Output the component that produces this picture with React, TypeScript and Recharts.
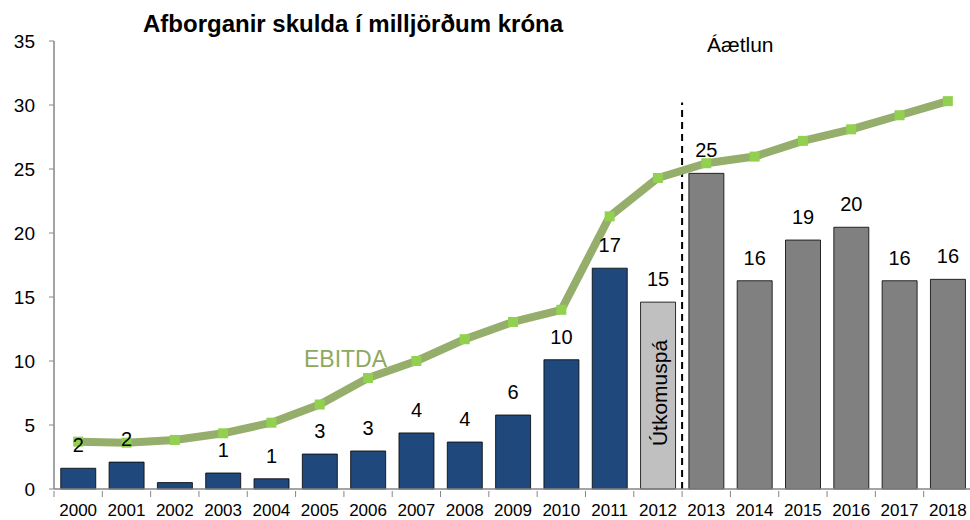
import React from 'react'
import {
  ComposedChart,
  Bar,
  Line,
  XAxis,
  YAxis,
  Cell,
  LabelList,
  ReferenceLine,
} from 'recharts'

const years = [
  '2000', '2001', '2002', '2003', '2004', '2005', '2006', '2007', '2008', '2009',
  '2010', '2011', '2012', '2013', '2014', '2015', '2016', '2017', '2018',
]

// afborganir (ma.kr.)
const repayments = [
  1.62, 2.1, 0.5, 1.25, 0.8, 2.73, 2.97, 4.38, 3.67, 5.78,
  10.1, 17.25, 14.6, 24.66, 16.27, 19.45, 20.45, 16.27, 16.38,
]

const repaymentLabels = [
  '2', '2', '', '1', '1', '3', '3', '4', '4', '6',
  '10', '17', '15', '25', '16', '19', '20', '16', '16',
]

const ebitda = [
  3.7, 3.62, 3.83, 4.35, 5.18, 6.6, 8.67, 10.0, 11.7, 13.05,
  14.0, 21.3, 24.3, 25.45, 25.97, 27.2, 28.1, 29.2, 30.3,
]

// saga / útkomuspá / áætlun
const kind = [
  'actual', 'actual', 'actual', 'actual', 'actual', 'actual', 'actual', 'actual', 'actual', 'actual',
  'actual', 'actual', 'estimate', 'plan', 'plan', 'plan', 'plan', 'plan', 'plan',
]

const yTicks = [0, 5, 10, 15, 20, 25, 30, 35]

const colors: Record<string, string> = {
  actual: '#1F497D',
  estimate: '#C0C0C0',
  plan: '#808080',
}

const data = years.map((year, i) => ({
  year,
  repayment: repayments[i],
  label: repaymentLabels[i],
  ebitda: ebitda[i],
  kind: kind[i],
}))

const FONT = '"Liberation Sans", Arial, sans-serif'
const AXIS = '#868686'
const BAND = 918 / years.length

const XTick = (props: any) => {
  const { x, y, payload, index } = props
  return (
    <g>
      <line x1={x - BAND / 2} x2={x - BAND / 2} y1={y} y2={y + 6} stroke={AXIS} />
      {index === years.length - 1 && (
        <line x1={x + BAND / 2} x2={x + BAND / 2} y1={y} y2={y + 6} stroke={AXIS} />
      )}
      <text x={x} y={y + 25} textAnchor="middle" fontSize={17} fill="#000" fontFamily={FONT}>
        {payload.value}
      </text>
    </g>
  )
}

const SquareDot = (props: any) => {
  const { cx, cy } = props
  if (cx == null || cy == null) return null
  return <rect x={cx - 5} y={cy - 5} width={10} height={10} fill="#92D050" />
}

export default function App() {
  return (
    <div style={{ position: 'absolute', left: 0, top: 0, width: 970, height: 520, overflow: 'hidden', background: '#fff' }}>
      <ComposedChart
        width={980}
        height={520}
        data={data}
        margin={{ top: 41, right: 8, bottom: 0, left: 10 }}
        barCategoryGap="14%"
        style={{ fontFamily: FONT }}
      >
        <XAxis
          dataKey="year"
          height={31}
          tickSize={0}
          tickLine={false}
          tick={<XTick />}
          axisLine={{ stroke: AXIS, strokeWidth: 1.5 }}
          interval={0}
        />
        <YAxis
          width={44}
          domain={[0, 35]}
          ticks={yTicks}
          tickSize={5}
          tickMargin={14}
          tick={{ fontSize: 19, fill: '#000', fontFamily: FONT }}
          tickLine={{ stroke: AXIS }}
          axisLine={{ stroke: AXIS, strokeWidth: 1.5 }}
          interval={0}
        />
        <Bar dataKey="repayment" stroke="#000" strokeWidth={0.8} isAnimationActive={false}>
          {data.map((d, i) => (
            <Cell key={`c-${i}`} fill={colors[d.kind]} />
          ))}
          <LabelList dataKey="label" position="top" offset={16} fontSize={20} fill="#000" fontFamily={FONT} />
        </Bar>
        <ReferenceLine
          segment={[
            { x: '2012', y: 0 },
            { x: '2012', y: 30.2 },
          ]}
          position="end"
          stroke="#000"
          strokeWidth={2}
          strokeDasharray="7 5"
        />
        <Line
          dataKey="ebitda"
          type="linear"
          stroke="#95AE6B"
          strokeWidth={8}
          strokeLinejoin="round"
          dot={<SquareDot />}
          activeDot={false}
          isAnimationActive={false}
        />
      </ComposedChart>
      <svg width={970} height={520} style={{ position: 'absolute', left: 0, top: 0, pointerEvents: 'none' }}>
        <text x={143} y={32} fontSize={24} fontWeight="bold" fill="#000" fontFamily={FONT}>
          Afborganir skulda í milljörðum króna
        </text>
        <text x={707} y={52} fontSize={21} fill="#000" fontFamily={FONT}>
          Áætlun
        </text>
        <text x={304} y={367} fontSize={23} fill="#8FA860" fontFamily={FONT}>
          EBITDA
        </text>
        <text
          transform="translate(667,393) rotate(-90)"
          textAnchor="middle"
          fontSize={21}
          fill="#000"
          fontFamily={FONT}
        >
          Útkomuspá
        </text>
      </svg>
    </div>
  )
}
